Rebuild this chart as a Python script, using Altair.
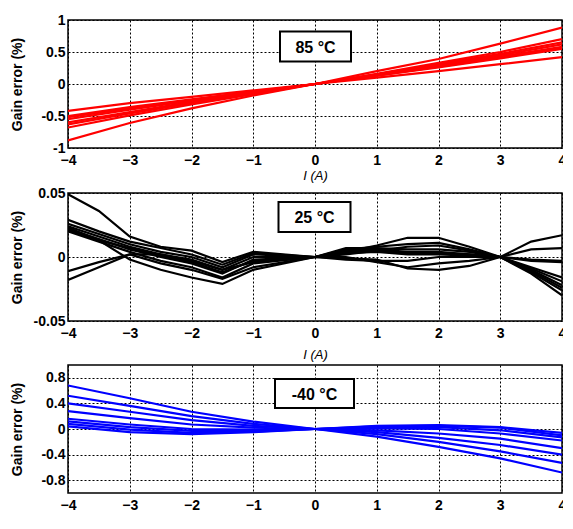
import altair as alt
import pandas as pd

# ---------------- data ----------------
x_int = [-4, -3, -2, -1, 0, 1, 2, 3, 4]

# 85 °C panel
hot_runs = {
    "h1": [-0.88, -0.61, -0.38, -0.18, 0, 0.20, 0.39, 0.63, 0.88],
    "h2": [-0.42, -0.30, -0.20, -0.10, 0, 0.10, 0.20, 0.31, 0.42],
    "h3": [-0.50, -0.36, -0.24, -0.12, 0, 0.13, 0.26, 0.40, 0.55],
    "h4": [-0.55, -0.40, -0.26, -0.13, 0, 0.14, 0.28, 0.43, 0.58],
    "h5": [-0.60, -0.44, -0.28, -0.14, 0, 0.14, 0.30, 0.45, 0.62],
    "h6": [-0.63, -0.46, -0.30, -0.15, 0, 0.15, 0.31, 0.47, 0.65],
    "h7": [-0.68, -0.49, -0.32, -0.16, 0, 0.16, 0.33, 0.50, 0.70],
    "h8": [-0.52, -0.38, -0.25, -0.12, 0, 0.13, 0.27, 0.41, 0.57],
}

# 25 °C panel
x_mid = [-4, -3.5, -3, -2.5, -2, -1.5, -1, 0, 0.5, 1, 1.5, 2, 2.5, 3, 3.5, 4]
room_runs = {
    "r1": [0.049, 0.036, 0.016, 0.008, 0.005, -0.004, 0.004, 0, 0.002, 0.005, 0.008, 0.009, 0.005, 0, -0.012, -0.026],
    "r2": [0.029, 0.020, 0.012, 0.007, 0.002, -0.006, 0.003, 0, 0.004, 0.009, 0.015, 0.015, 0.008, 0, -0.013, -0.030],
    "r3": [0.026, 0.018, 0.010, 0.004, 0.000, -0.008, 0.002, 0, 0.006, 0.008, 0.010, 0.011, 0.006, 0, -0.010, -0.022],
    "r4": [0.024, 0.016, 0.008, 0.002, -0.003, -0.010, 0.000, 0, 0.007, 0.007, 0.006, 0.006, 0.004, 0, -0.009, -0.019],
    "r5": [0.022, 0.014, 0.006, 0.000, -0.005, -0.013, -0.002, 0, 0.005, 0.006, 0.004, 0.004, 0.002, 0, -0.008, -0.016],
    "r6": [0.020, 0.012, 0.004, -0.003, -0.008, -0.016, -0.005, 0, 0.003, 0.004, 0.002, 0.002, 0.001, 0, 0.006, 0.007],
    "r7": [0.023, 0.013, -0.002, -0.010, -0.016, -0.021, -0.010, 0, -0.001, -0.002, -0.009, -0.010, -0.007, 0, 0.012, 0.017],
    "r8": [-0.011, -0.004, 0.002, 0.002, -0.002, -0.010, -0.004, 0, 0.000, -0.004, -0.008, -0.005, -0.003, 0, -0.002, -0.003],
    "r9": [-0.018, -0.008, 0.002, -0.005, -0.010, -0.017, -0.008, 0, -0.002, -0.003, -0.003, 0.000, 0.000, 0, -0.011, -0.024],
    "r10": [0.021, 0.013, 0.007, 0.001, -0.004, -0.012, -0.003, 0, 0.004, 0.005, 0.003, 0.003, 0.002, 0, -0.003, -0.004],
}

# -40 °C panel
cold_runs = {
    "c1": [0.68, 0.48, 0.27, 0.115, 0, -0.12, -0.28, -0.46, -0.68],
    "c2": [0.52, 0.36, 0.20, 0.08, 0, -0.08, -0.20, -0.35, -0.53],
    "c3": [0.40, 0.27, 0.14, 0.05, 0, -0.05, -0.14, -0.25, -0.40],
    "c4": [0.28, 0.17, 0.07, 0.02, 0, -0.02, -0.07, -0.15, -0.30],
    "c5": [0.16, 0.07, 0.00, -0.01, 0, 0.01, 0.00, -0.07, -0.18],
    "c6": [0.12, 0.03, -0.03, -0.03, 0, 0.03, 0.03, -0.02, -0.13],
    "c7": [0.08, -0.01, -0.06, -0.04, 0, 0.04, 0.05, 0.02, -0.10],
    "c8": [0.04, -0.05, -0.08, -0.05, 0, 0.05, 0.06, 0.03, -0.06],
}

x_ticks = [-4, -3, -2, -1, 0, 1, 2, 3, 4]
hot_ticks = [-1, -0.5, 0, 0.5, 1]
room_ticks = [-0.05, 0, 0.05]
cold_ticks = [-0.8, -0.4, 0, 0.4, 0.8]

FONT = "Liberation Sans, Arial, sans-serif"
W, H = 494, 128


def long_df(xs, runs):
    rows = []
    for name, ys in runs.items():
        for xv, yv in zip(xs, ys):
            rows.append({"I": xv, "err": yv, "run": name})
    return pd.DataFrame(rows)


def panel(df, color, ydomain, yticks, label, box, title_pad=4):
    x = alt.X("I:Q",
              scale=alt.Scale(domain=[-4, 4], nice=False, zero=False),
              axis=alt.Axis(values=x_ticks, title="I (A)", titlePadding=title_pad))
    y = alt.Y("err:Q",
              scale=alt.Scale(domain=ydomain, nice=False, zero=False),
              axis=alt.Axis(values=yticks, title="Gain error (%)",
                            labelExpr="'' + datum.value"))
    lines = alt.Chart(df).mark_line(color=color, strokeWidth=2.2, clip=True).encode(
        x=x, y=y, detail="run:N")
    bdf = pd.DataFrame({"t": [label]})
    x0, x1, y0, y1 = box
    rect = alt.Chart(bdf).mark_rect(fill="white", stroke="black", strokeWidth=2).encode(
        x=alt.value(x0), x2=alt.value(x1), y=alt.value(y0), y2=alt.value(y1))
    text = alt.Chart(bdf).mark_text(font=FONT, fontSize=16, fontWeight="bold",
                                    color="black", align="center", baseline="middle").encode(
        x=alt.value((x0 + x1) / 2), y=alt.value((y0 + y1) / 2 + 1), text="t:N")
    return alt.layer(lines, rect, text).properties(width=W, height=H)


p1 = panel(long_df(x_int, hot_runs), "#ff0000", [-1, 1], hot_ticks, "85 °C", (212, 283, 11.5, 41.5), title_pad=2)
p2 = panel(long_df(x_mid, room_runs), "#000000", [-0.05, 0.05], room_ticks, "25 °C", (210.5, 282.5, 9, 39), title_pad=8)
p3 = panel(long_df(x_int, cold_runs), "#0000ff", [-1, 1], cold_ticks, "-40 °C", (207, 286, 14, 43), title_pad=0)

chart = alt.vconcat(p1, p2, p3, spacing=2).properties(
    padding={"left": 1, "top": 4, "right": -4, "bottom": -12}
).configure_view(
    stroke="black", strokeWidth=1.5
).configure_axis(
    grid=True, gridColor="#000000", gridDash=[2, 2], gridWidth=1, gridOpacity=1,
    domain=False, ticks=False, tickSize=0,
    labelFont=FONT, labelFontSize=14, labelFontWeight="bold", labelColor="black",
    titleFont=FONT, titleColor="black",
).configure_axisX(
    labelPadding=5, titleFontSize=13, titleFontStyle="italic",
    titleFontWeight="normal", labelFlush=False, labelOverlap=False,
).configure_axisY(
    labelPadding=3, titlePadding=4, minExtent=40, maxExtent=40,
    titleFontSize=14, titleFontWeight="bold", labelOverlap=False,
)

chart.save("out.html", embed_options={"renderer": "svg", "actions": False})
